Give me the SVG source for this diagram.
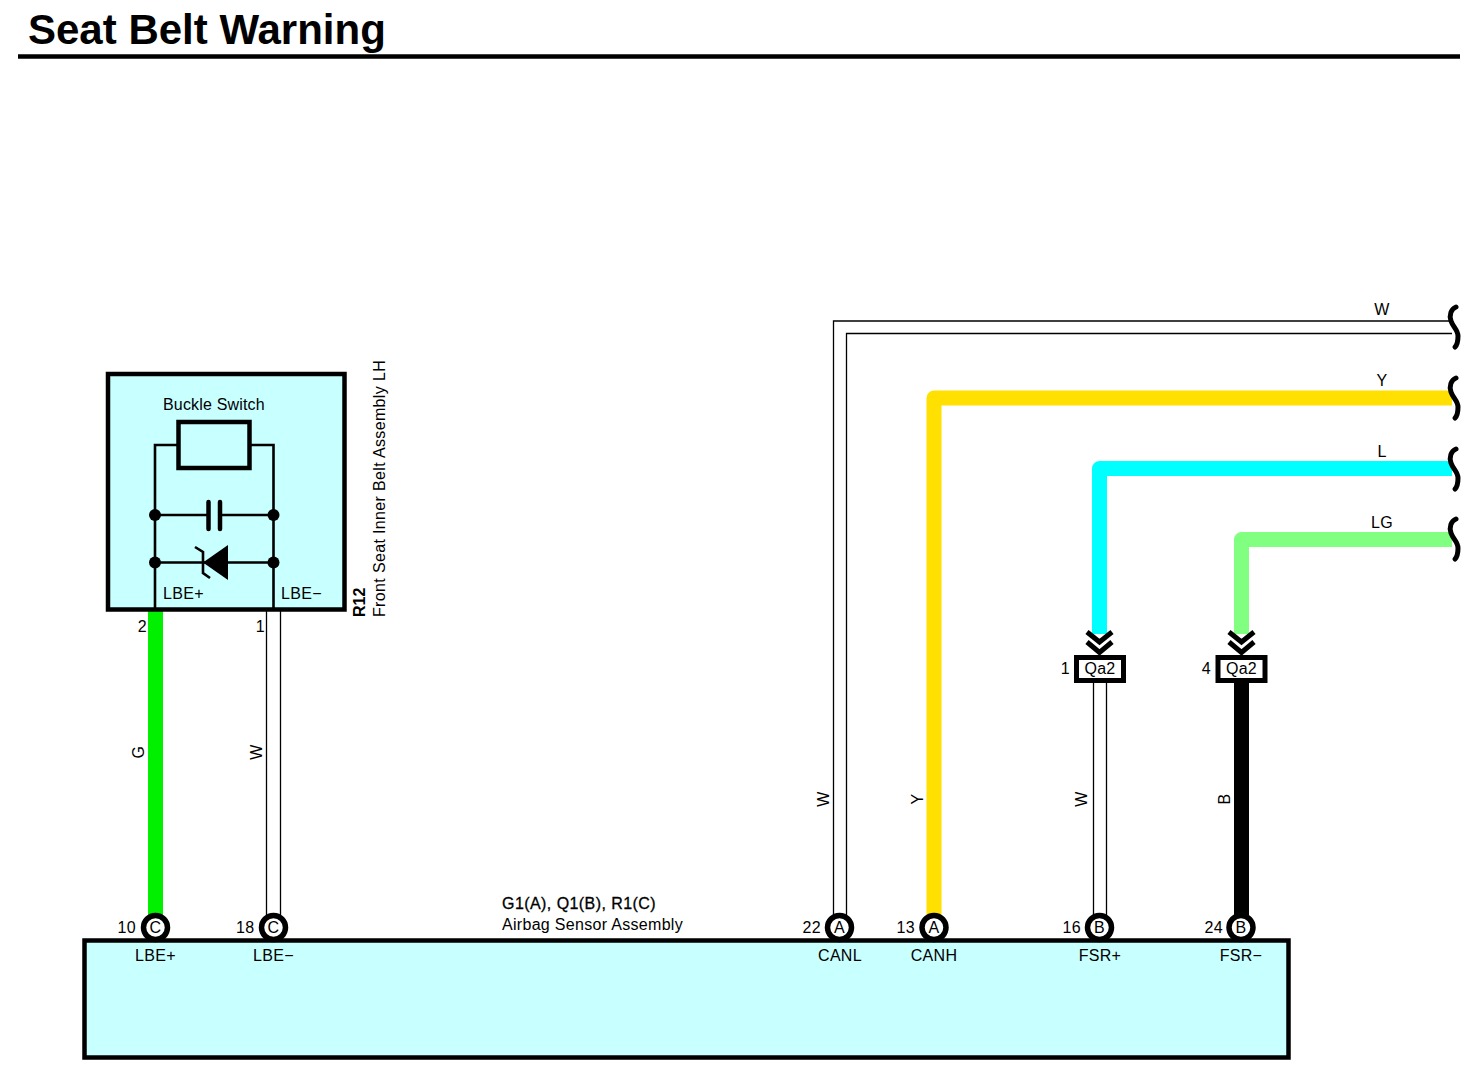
<svg xmlns="http://www.w3.org/2000/svg" width="1482" height="1080" viewBox="0 0 1482 1080">
<style>
text{font-family:"Liberation Sans",Arial,sans-serif;font-size:16px;fill:#000;letter-spacing:.3px}
.m{text-anchor:middle}
.e{text-anchor:end}
.box{fill:#c8ffff;stroke:#000;stroke-width:4.5}
.w{fill:none;stroke:#000;stroke-width:1.3}
.t{fill:none;stroke-width:15;stroke-linejoin:round}
.i{fill:none;stroke:#000;stroke-width:2.6}
.b{fill:none;stroke:#000;stroke-width:5;stroke-linecap:round}
.pin{fill:#fff;stroke:#000;stroke-width:5.5}
.q{fill:#fff;stroke:#000;stroke-width:5}
.c{fill:none;stroke:#000;stroke-width:5}
</style>
<defs>
<path id="brk" class="b" d="M1456 -20C1451 -18 1449 -12 1451 -6C1453 0 1458 3 1458 9C1458 14 1457 18 1455 20"/>
<g id="chev"><path class="c" d="M-12.500 -12L0 -2L12.500 -12M-12.500 -2L0 8.500L12.500 -2"/></g>
</defs>
<g id="title">
<text x="28" y="44" style="font-size:42px;font-weight:bold;letter-spacing:0">Seat Belt Warning</text>
<path d="M18 56.500H1460" stroke="#000" stroke-width="4.500"/>
</g>
<g id="connectors">
<path class="t" stroke="#00f000" d="M155.500 610V915"/>
<path class="w" d="M266.500 610V915M280.500 610V915"/>
<path class="w" d="M833.500 915V321H1452M846.500 915V333.500H1452"/>
<path class="t" stroke="#ffe000" d="M934 915V398H1452"/>
<path class="t" stroke="#00ffff" d="M1099.500 634V468.500H1452"/>
<path class="t" stroke="#80ff80" d="M1241.500 634V539.500H1452"/>
<path class="w" d="M1093.500 682V915M1106.500 682V915"/>
<path class="t" stroke="#000" d="M1241.500 682V915"/>
<use href="#brk" x="0" y="327"/>
<use href="#brk" x="0" y="398"/>
<use href="#brk" x="0" y="469"/>
<use href="#brk" x="0" y="539"/>
<text class="m" x="1382" y="315">W</text>
<text class="m" x="1382" y="386">Y</text>
<text class="m" x="1382" y="457">L</text>
<text class="m" x="1382" y="528">LG</text>
<text class="m" transform="translate(144 752) rotate(-90)">G</text>
<text class="m" transform="translate(262 752) rotate(-90)">W</text>
<text class="m" transform="translate(829 799) rotate(-90)">W</text>
<text class="m" transform="translate(923 799) rotate(-90)">Y</text>
<text class="m" transform="translate(1087 799) rotate(-90)">W</text>
<text class="m" transform="translate(1230 799) rotate(-90)">B</text>
<text class="e" x="147" y="632">2</text>
<text class="e" x="265" y="632">1</text>
</g>
<g id="r12">
<rect class="box" x="108" y="374" width="236.500" height="235.500"/>
<text x="163" y="410" textLength="102">Buckle Switch</text>
<path class="i" d="M155 609.500V445H178M250 445H273.500V609.500M155 515H208M221 515H273.500M155 562.500H273.500"/>
<rect x="178.500" y="422" width="71" height="46" fill="#c8ffff" stroke="#000" stroke-width="4.500"/>
<path d="M208.500 502V529M220 502V529" fill="none" stroke="#000" stroke-width="4.500" stroke-linecap="round"/>
<circle cx="155" cy="515" r="6"/><circle cx="273.500" cy="515" r="6"/>
<circle cx="155" cy="562.500" r="6"/><circle cx="273.500" cy="562.500" r="6"/>
<path d="M203 562.500L228 545V580Z"/>
<path d="M195 547L203 552V573L210 578" fill="none" stroke="#000" stroke-width="2.600"/>
<text x="163" y="599">LBE+</text>
<text x="281" y="599">LBE−</text>
<g transform="translate(365 617) rotate(-90)"><text style="font-weight:bold;letter-spacing:0">R12</text></g>
<g transform="translate(385 617) rotate(-90)"><text textLength="257">Front Seat Inner Belt Assembly LH</text></g>
</g>
<g id="qa2-1">
<use href="#chev" x="1099.500" y="644"/>
<rect class="q" x="1076.500" y="657.500" width="47" height="23"/>
<text class="m" x="1100" y="674">Qa2</text>
<text class="e" x="1070" y="674">1</text>
</g>
<g id="qa2-4">
<use href="#chev" x="1241.500" y="644"/>
<rect class="q" x="1218" y="657.500" width="47" height="23"/>
<text class="m" x="1241.500" y="674">Qa2</text>
<text class="e" x="1211" y="674">4</text>
</g>
<g id="airbag">
<rect class="box" x="84.500" y="940.500" width="1204" height="117"/>
<text x="502" y="909" textLength="154" style="stroke:#000;stroke-width:.3">G1(A), Q1(B), R1(C)</text>
<text x="502" y="930" textLength="181">Airbag Sensor Assembly</text>
<text class="m" x="155.500" y="961">LBE+</text>
<text class="m" x="273.500" y="961">LBE−</text>
<text class="m" x="840" y="961">CANL</text>
<text class="m" x="934" y="961">CANH</text>
<text class="m" x="1100" y="961">FSR+</text>
<text class="m" x="1241" y="961">FSR−</text>
</g>
<g id="pin-10"><circle class="pin" cx="155.500" cy="927.500" r="12"/><text class="m" x="155.500" y="933">C</text><text class="e" x="136" y="933">10</text></g>
<g id="pin-18"><circle class="pin" cx="273.500" cy="927.500" r="12"/><text class="m" x="273.500" y="933">C</text><text class="e" x="254.500" y="933">18</text></g>
<g id="pin-22"><circle class="pin" cx="839.500" cy="927.500" r="12"/><text class="m" x="839.500" y="933">A</text><text class="e" x="821" y="933">22</text></g>
<g id="pin-13"><circle class="pin" cx="934" cy="927.500" r="12"/><text class="m" x="934" y="933">A</text><text class="e" x="915" y="933">13</text></g>
<g id="pin-16"><circle class="pin" cx="1099.500" cy="927.500" r="12"/><text class="m" x="1099.500" y="933">B</text><text class="e" x="1081" y="933">16</text></g>
<g id="pin-24"><circle class="pin" cx="1241" cy="927.500" r="12"/><text class="m" x="1241" y="933">B</text><text class="e" x="1223" y="933">24</text></g>
</svg>
